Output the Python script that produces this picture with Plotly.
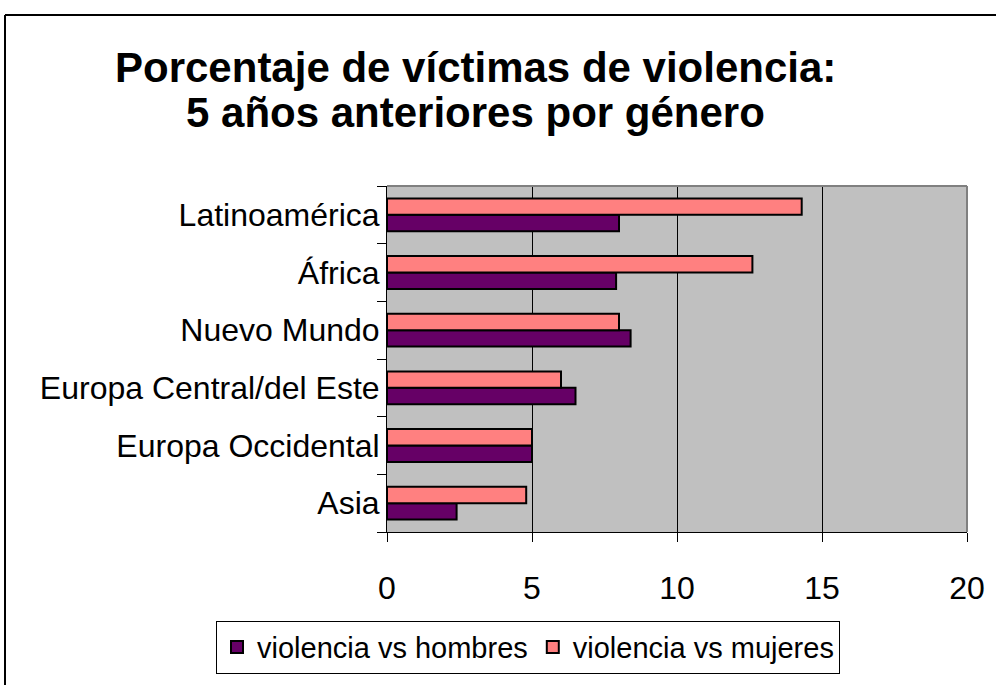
import plotly.graph_objects as go

# Regions listed bottom-to-top (plotly puts the first category at the bottom)
categories = ["Asia", "Europa Occidental", "Europa Central/del Este",
              "Nuevo Mundo", "África", "Latinoamérica"]
hombres = [2.4, 5.0, 6.5, 8.4, 7.9, 8.0]
mujeres = [4.8, 5.0, 6.0, 8.0, 12.6, 14.3]
series_names = ["violencia vs hombres", "violencia vs mujeres"]
x_ticks = [0, 5, 10, 15, 20]
title_lines = ["Porcentaje de víctimas de violencia:",
               "5 años anteriores por género"]

FONT = "Liberation Sans, Arial, sans-serif"
W, H = 996, 685
L, R, T, B = 387, 29, 186, 147
PW, PH = W - L - R, H - T - B


def px_x(x):
    return (x - L) / PW


def px_y(y):
    return (H - B - y) / PH


fig = go.Figure()
fig.add_trace(go.Bar(
    y=categories, x=hombres, name=series_names[0], orientation="h",
    marker=dict(color="#660066", line=dict(color="#000000", width=2)),
))
fig.add_trace(go.Bar(
    y=categories, x=mujeres, name=series_names[1], orientation="h",
    marker=dict(color="#FF8080", line=dict(color="#000000", width=2)),
))

# two-line bold title, each line placed by its top edge in pixels
title_tops = [39, 85]
annotations = [
    dict(text="<b>" + line + "</b>", xref="paper", yref="paper",
         x=px_x(475), y=px_y(top), xanchor="center", yanchor="top",
         showarrow=False, align="center",
         font=dict(size=42, family=FONT, color="#000000"))
    for line, top in zip(title_lines, title_tops)
]

fig.update_layout(
    width=W, height=H,
    margin=dict(l=L, r=R, t=T, b=B, pad=0),
    paper_bgcolor="white",
    plot_bgcolor="#C0C0C0",
    barmode="group",
    bargap=0.43,
    bargroupgap=0,
    font=dict(family=FONT, color="#000000"),
    showlegend=True,
    legend=dict(
        orientation="h",
        x=px_x(216), y=px_y(682), xanchor="left", yanchor="bottom",
        bordercolor="#000000", borderwidth=1, bgcolor="white",
        font=dict(size=29, family=FONT),
        traceorder="normal",
        itemwidth=30,
    ),
    xaxis=dict(
        range=[0, 20], tickvals=x_ticks, ticktext=[str(v) for v in x_ticks],
        showgrid=True, gridcolor="#000000", gridwidth=1,
        zeroline=False, showline=True, linecolor="#000000", linewidth=1,
        ticks="outside", ticklen=9, tickcolor="#000000", tickwidth=1,
        tickfont=dict(size=32, family=FONT),
        ticklabelstandoff=19,
        fixedrange=True,
    ),
    yaxis=dict(
        type="category", categoryorder="array", categoryarray=categories,
        showgrid=False, zeroline=False,
        showline=True, linecolor="#000000", linewidth=1,
        ticks="outside", ticklen=9, tickcolor="#000000", tickwidth=1,
        tickson="boundaries",
        tickfont=dict(size=32, family=FONT),
        fixedrange=True,
    ),
    shapes=[
        # grey frame on the top and right of the plot area
        dict(type="line", xref="paper", yref="paper", x0=0, x1=1, y0=1, y1=1,
             line=dict(color="#808080", width=2), layer="above"),
        dict(type="line", xref="paper", yref="paper", x0=1, x1=1, y0=0, y1=1,
             line=dict(color="#808080", width=2), layer="above"),
        # outer chart border (left and top edges fall inside the page)
        dict(type="line", xref="paper", yref="paper",
             x0=px_x(5), x1=px_x(1100), y0=px_y(12), y1=px_y(12),
             line=dict(color="#000000", width=2), layer="above"),
        dict(type="line", xref="paper", yref="paper",
             x0=px_x(5), x1=px_x(5), y0=px_y(12), y1=px_y(800),
             line=dict(color="#000000", width=2), layer="above"),
    ],
    annotations=annotations,
)

fig.write_html("out.html")
